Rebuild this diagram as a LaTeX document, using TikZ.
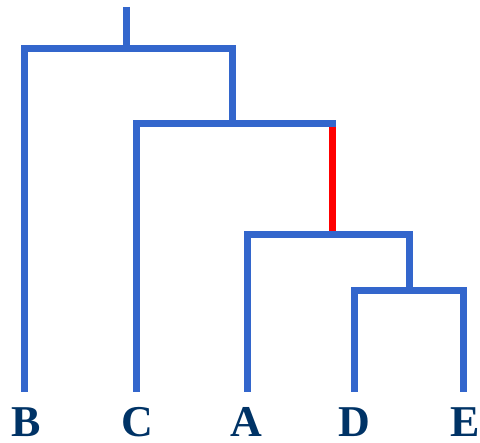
\documentclass[tikz,border=0pt]{standalone}
\usepackage{fontspec}
\setmainfont{Liberation Serif}
\definecolor{treeblue}{HTML}{3366CC}
\definecolor{labelnavy}{HTML}{003366}
\definecolor{hired}{HTML}{FF0000}
\begin{document}
\begin{tikzpicture}[x=1pt,y=-1pt,
  branch/.style={draw=treeblue,line width=7pt,line join=miter,line cap=butt},
  hibranch/.style={draw=hired,line width=7pt,line cap=butt},
  leaf/.style={text=labelnavy,font=\fontsize{44}{44}\selectfont\bfseries,anchor=base,inner sep=0pt}]
\useasboundingbox (0,0) rectangle (480,443);
% leaf bottoms
\coordinate (bB) at (24.5,392);
\coordinate (bC) at (136.5,392);
\coordinate (bA) at (247,392);
\coordinate (bD) at (354.5,392);
\coordinate (bE) at (463.5,392);
% internal nodes
\coordinate (root) at (126.5,7);
\coordinate (r) at (126.5,48.5);
\coordinate (n2) at (232.5,124);
\coordinate (n3top) at (332,124);
\coordinate (n3end) at (335.5,124);
\coordinate (n3) at (332,235);
\coordinate (n4) at (409.5,290.5);
% labels
\node[leaf] (B) at (26,437) {B};
\node[leaf] (C) at (137,437) {C};
\node[leaf] (A) at (246.5,437) {A};
\node[leaf] (D) at (354.5,437) {D};
\node[leaf] (E) at (465,437) {E};
% branches
\path[branch] (root) -- (r);
\path[branch] (bB) |- (r) -| (n2);
\path[hibranch] (n3top) -- (n3);
\path[branch] (bC) |- (n3end);
\path[branch] (bA) |- (n3) -| (n4);
\path[branch] (bD) |- (n4) -| (bE);
\end{tikzpicture}
\end{document}
